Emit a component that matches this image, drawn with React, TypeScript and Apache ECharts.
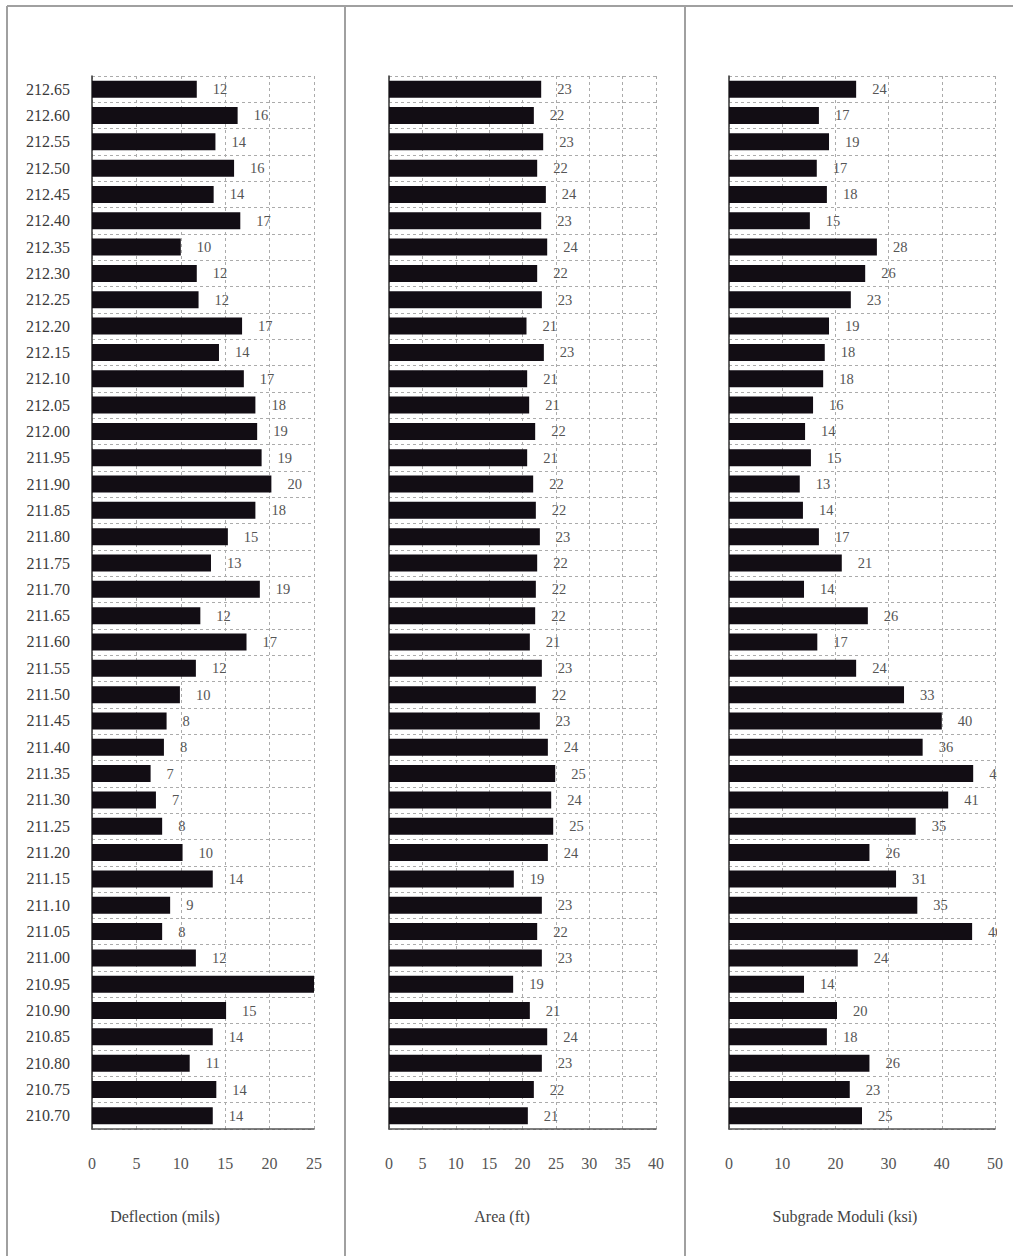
import React, { useEffect, useRef } from "react";
import * as echarts from "echarts";

const stations = [
  "212.65", "212.60", "212.55", "212.50", "212.45", "212.40", "212.35", "212.30", "212.25", "212.20",
  "212.15", "212.10", "212.05", "212.00", "211.95", "211.90", "211.85", "211.80", "211.75", "211.70",
  "211.65", "211.60", "211.55", "211.50", "211.45", "211.40", "211.35", "211.30", "211.25", "211.20",
  "211.15", "211.10", "211.05", "211.00", "210.95", "210.90", "210.85", "210.80", "210.75", "210.70",
];

const deflection = [
  11.8, 16.4, 13.9, 16.0, 13.7, 16.7, 10.0, 11.8, 12.0, 16.9,
  14.3, 17.1, 18.4, 18.6, 19.1, 20.2, 18.4, 15.3, 13.4, 18.9,
  12.2, 17.4, 11.7, 9.9, 8.4, 8.1, 6.6, 7.2, 7.9, 10.2,
  13.6, 8.8, 7.9, 11.7, 26.0, 15.1, 13.6, 11.0, 14.0, 13.6,
];

const area = [
  22.8, 21.7, 23.1, 22.2, 23.5, 22.8, 23.7, 22.2, 22.9, 20.6,
  23.2, 20.7, 21.0, 21.9, 20.7, 21.6, 22.0, 22.6, 22.2, 22.0,
  21.9, 21.1, 22.9, 22.0, 22.6, 23.8, 24.9, 24.3, 24.6, 23.8,
  18.7, 22.9, 22.2, 22.9, 18.6, 21.1, 23.7, 22.9, 21.7, 20.8,
];

const subgrade = [
  23.9, 16.9, 18.8, 16.5, 18.4, 15.2, 27.8, 25.6, 22.9, 18.8,
  18.0, 17.7, 15.8, 14.3, 15.4, 13.3, 13.9, 16.9, 21.2, 14.1,
  26.1, 16.6, 23.9, 32.9, 40.0, 36.4, 45.9, 41.2, 35.1, 26.4,
  31.4, 35.4, 45.7, 24.2, 14.1, 20.3, 18.4, 26.4, 22.7, 25.0,
];

const axisTitles = ["Deflection (mils)", "Area (ft)", "Subgrade Moduli (ksi)"];
const axisMax = [25, 40, 50];
const axisInterval = [5, 5, 10];

// layout (pixels)
const gridLeft = [92, 389, 729];
const gridWidth = [222, 267, 266];
const titleCenter = [165, 502, 845];
const GRID_TOP = 76;
const GRID_HEIGHT = 1053;

const FONT = "'Liberation Serif', 'DejaVu Serif', serif";

export default function App() {
  const ref = useRef<HTMLDivElement>(null);

  useEffect(() => {
    document.body.style.margin = "0";
    if (!ref.current) return;
    const chart = echarts.init(ref.current, undefined, { renderer: "svg" });
    const datasets = [deflection, area, subgrade];

    const grids = datasets.map((_, i) => ({
      left: gridLeft[i],
      width: gridWidth[i],
      top: GRID_TOP,
      height: GRID_HEIGHT,
      containLabel: false,
    }));

    const dashed = { color: "#ababab", type: [3, 3] as any, width: 1 };

    const xAxes = datasets.map((_, i) => ({
      type: "value",
      gridIndex: i,
      min: 0,
      max: axisMax[i],
      interval: axisInterval[i],
      axisLine: { show: true, lineStyle: { color: "#555", width: 1.5 } },
      axisTick: { show: false },
      axisLabel: { fontFamily: FONT, fontSize: 16, color: "#555", margin: 26 },
      splitLine: { show: true, lineStyle: dashed },
    }));

    const yAxes = datasets.map((_, i) => ({
      type: "category",
      gridIndex: i,
      data: stations,
      inverse: true,
      axisLine: { show: true, lineStyle: { color: "#333", width: 1.5 } },
      axisTick: { show: false },
      axisLabel: {
        show: i === 0,
        fontFamily: FONT,
        fontSize: 16,
        color: "#3a3a3a",
        margin: 22,
      },
      splitLine: { show: true, lineStyle: dashed },
    }));

    const series = datasets.map((d, i) => ({
      type: "bar",
      xAxisIndex: i,
      yAxisIndex: i,
      data: d,
      barWidth: 17,
      clip: true,
      itemStyle: { color: "#120d14" },
      label: {
        show: true,
        position: "right",
        distance: 16,
        fontFamily: FONT,
        fontSize: 14.5,
        color: "#555",
        formatter: (p: any) => (p.value > axisMax[i] ? "" : String(Math.round(p.value))),
      },
    }));

    const frame = "#a0a0a0";
    const graphic: any[] = [
      { type: "line", shape: { x1: 7, y1: 6, x2: 1013, y2: 6 }, style: { stroke: frame, lineWidth: 2 }, z: 10 },
      { type: "line", shape: { x1: 7, y1: 6, x2: 7, y2: 1256 }, style: { stroke: frame, lineWidth: 2 }, z: 10 },
      { type: "line", shape: { x1: 345, y1: 6, x2: 345, y2: 1256 }, style: { stroke: frame, lineWidth: 2 }, z: 10 },
      { type: "line", shape: { x1: 685, y1: 6, x2: 685, y2: 1256 }, style: { stroke: frame, lineWidth: 2 }, z: 10 },
      { type: "rect", shape: { x: 997, y: 70, width: 20, height: 1070 }, style: { fill: "#fff" }, z: 100 },
      ...axisTitles.map((t, i) => ({
        type: "text",
        x: titleCenter[i],
        y: 1216,
        style: {
          text: t,
          fontFamily: FONT,
          fontSize: 16,
          fill: "#444",
          align: "center",
          verticalAlign: "middle",
        },
        z: 10,
      })),
    ];

    chart.setOption({
      animation: false,
      backgroundColor: "#fff",
      grid: grids,
      xAxis: xAxes,
      yAxis: yAxes,
      series,
      graphic,
    } as any);

    return () => chart.dispose();
  }, []);

  return <div ref={ref} style={{ width: 1013, height: 1256 }} />;
}
